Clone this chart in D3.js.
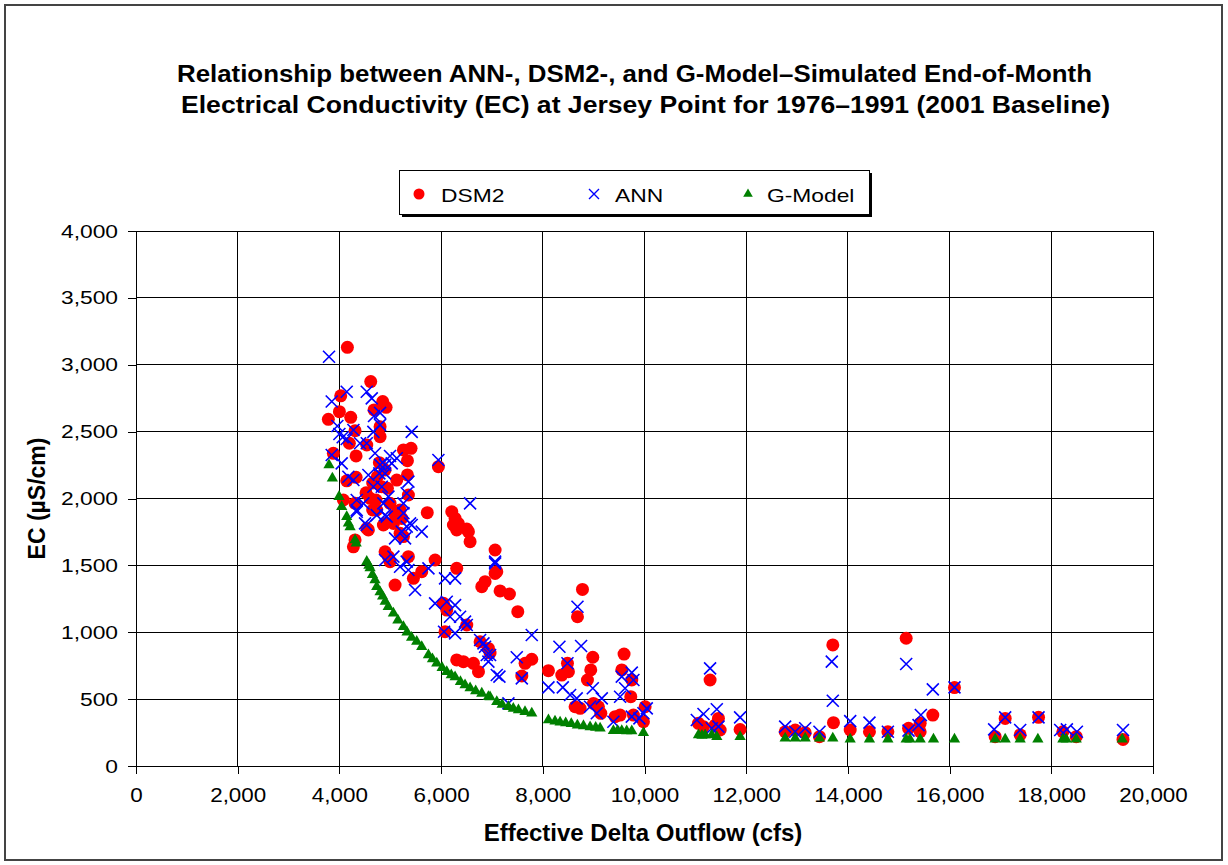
<!DOCTYPE html>
<html><head><meta charset="utf-8">
<script src="https://cdn.jsdelivr.net/npm/d3@7"></script>
<style>
body{margin:0;background:#fff;}
svg{display:block;font-family:"Liberation Sans",Arial,sans-serif;}
</style></head>
<body><svg id="c" width="1228" height="865"></svg>
<script>
const xTicks=[0,2000,4000,6000,8000,10000,12000,14000,16000,18000,20000];
const yTicks=[0,500,1000,1500,2000,2500,3000,3500,4000];
const seriesNames=["DSM2","ANN","G-Model"];
const dsm2=[[4157,3130],[4616,2874],[4026,2768],[4852,2725],[4918,2682],[4681,2662],[4000,2649],[4223,2607],[3783,2592],[4800,2537],[4308,2507],[4800,2462],[4196,2413],[4538,2400],[3881,2338],[4328,2318],[5259,2363],[5409,2375],[5338,2283],[4786,2268],[5947,2238],[4898,2213],[5128,2138],[5338,2176],[4144,2132],[4328,2158],[4655,2116],[4746,2163],[4833,2088],[4944,2076],[4524,2043],[5357,2026],[4078,1989],[4603,2001],[4721,1989],[4308,1964],[4996,1964],[4655,1914],[5728,1894],[6210,1901],[6275,1851],[4898,1813],[5226,1851],[5095,1876],[6340,1813],[6505,1772],[4538,1776],[5128,1891],[4734,1914],[5193,1914],[6242,1802],[6307,1765],[6537,1752],[6570,1677],[7062,1615],[4570,1765],[4865,1802],[5062,1814],[4275,1639],[4308,1690],[5193,1740],[5259,1715],[4898,1602],[4964,1565],[4996,1528],[5357,1565],[5882,1540],[6307,1478],[5455,1403],[5619,1453],[6865,1378],[7095,1453],[6800,1341],[5095,1353],[6045,1216],[6111,1166],[6078,1004],[6505,1054],[6767,929],[6931,879],[6307,793],[6439,780],[6636,768],[6735,705],[7062,1440],[7160,1309],[7344,1286],[7508,1154],[8780,1320],[8682,1116],[6963,845],[7652,768],[7783,798],[7587,673],[8111,713],[8373,680],[8504,705],[8485,768],[8983,813],[8943,718],[8878,643],[9598,837],[9553,718],[9750,643],[9730,518],[8635,443],[8734,431],[9094,443],[9141,394],[9422,369],[9520,381],[9782,381],[9979,331],[10012,443],[8997,468],[11290,643],[11061,319],[11160,294],[11389,306],[11488,269],[11454,356],[11880,273],[12766,256],[12963,269],[13160,249],[13441,219],[13703,905],[13716,324],[14045,269],[15146,955],[14424,256],[14786,256],[15193,282],[15421,256],[15421,319],[15670,381],[16096,586],[16896,219],[17093,356],[17388,232],[17749,364],[18227,256],[18490,219],[19410,199]];
const ann=[[3796,3060],[4144,2798],[4538,2798],[4636,2749],[3849,2725],[4800,2640],[4681,2617],[3960,2542],[4800,2550],[4000,2482],[5422,2498],[4668,2498],[4065,2458],[4275,2512],[4144,2445],[4406,2413],[4538,2413],[3849,2325],[4045,2263],[4701,2338],[4996,2318],[5128,2301],[5947,2288],[4800,2251],[4898,2251],[5029,2263],[4177,2163],[4570,2176],[4275,2138],[4786,2188],[4898,2188],[5357,2126],[4668,2088],[4833,2088],[4964,2014],[5324,2039],[4341,1989],[6570,1964],[5259,1964],[4472,1964],[4865,1964],[4341,1901],[4734,1876],[4931,1864],[4504,1814],[5390,1814],[4341,1914],[4898,1876],[5259,1891],[4538,1802],[5324,1790],[5422,1802],[5619,1752],[5095,1702],[5291,1702],[5226,1752],[4898,1540],[5062,1565],[5324,1528],[5193,1490],[5357,1465],[5751,1478],[5488,1316],[6078,1403],[6275,1403],[7062,1528],[5882,1216],[6111,1228],[6275,1203],[6176,1116],[6373,1116],[6471,1079],[6505,1054],[6058,1004],[6275,992],[6767,942],[6865,892],[6898,830],[7095,680],[7062,1515],[8682,1191],[7783,979],[8327,892],[8753,897],[8485,768],[6833,917],[6963,830],[6930,780],[7488,813],[7147,668],[7587,655],[7324,468],[8111,588],[8393,588],[8537,531],[8667,506],[8983,581],[9160,506],[8930,443],[9062,394],[9520,518],[9553,668],[9750,698],[9782,643],[9618,581],[9388,331],[9750,369],[9900,356],[9979,394],[10045,431],[11290,730],[11029,344],[11160,389],[11422,424],[11454,294],[11323,282],[11880,364],[12766,294],[12963,256],[13160,282],[13441,256],[13683,780],[13703,488],[14045,336],[15146,763],[14424,324],[14786,256],[15193,264],[15389,306],[15435,381],[15670,573],[16096,588],[16876,274],[17093,364],[17388,269],[17749,364],[18175,269],[18306,274],[18503,256],[19410,269]];
const gmodel=[[3796,2250],[3862,2151],[3993,2014],[4045,1939],[4144,1864],[4177,1815],[4210,1787],[4308,1690],[4330,1665],[4538,1528],[4580,1500],[4603,1480],[4650,1430],[4700,1390],[4734,1341],[4800,1301],[4850,1270],[4900,1230],[4960,1190],[5062,1142],[5150,1090],[5259,1042],[5330,1000],[5420,960],[5520,930],[5619,892],[5751,830],[5830,800],[5915,768],[6020,735],[6111,705],[6200,680],[6275,665],[6380,630],[6471,606],[6570,583],[6680,560],[6800,543],[6930,518],[6963,516],[7095,481],[7200,460],[7324,443],[7420,430],[7521,419],[7650,405],[7783,394],[8111,344],[8240,335],[8340,327],[8450,322],[8560,315],[8680,305],[8800,300],[8930,292],[9040,287],[9127,282],[9388,264],[9470,264],[9553,264],[9650,262],[9750,262],[9979,249],[11061,232],[11130,228],[11192,232],[11323,232],[11422,219],[11880,219],[12766,207],[12963,207],[13160,207],[13441,207],[13703,207],[14045,200],[14424,200],[14786,200],[15146,200],[15220,200],[15421,200],[15683,200],[16096,200],[16896,200],[17093,200],[17388,200],[17736,200],[18227,200],[18293,200],[18490,200],[19395,200]];

const svg=d3.select("#c");
const L=136,R=1153,T=231,B=766;
const x=d3.scaleLinear().domain([0,20000]).range([L,R]);
const y=d3.scaleLinear().domain([0,4000]).range([B,T]);
const fmt=d3.format(",");
function stretch(sel,f){sel.each(function(){const w=this.getComputedTextLength();d3.select(this).attr("textLength",w*f).attr("lengthAdjust","spacingAndGlyphs");});}

svg.append("rect").attr("x",5).attr("y",5).attr("width",1217).attr("height",855).attr("fill","#fff").attr("stroke","#444").attr("stroke-width",2);

// title
const title=svg.append("text").attr("font-weight","bold").attr("font-size",23).attr("fill","#000");
title.append("tspan").attr("x",177).attr("y",82).attr("textLength",915).attr("lengthAdjust","spacingAndGlyphs").text("Relationship between ANN-, DSM2-, and G-Model\u2013Simulated End-of-Month");
title.append("tspan").attr("x",181).attr("y",113).attr("textLength",929).attr("lengthAdjust","spacingAndGlyphs").text("Electrical Conductivity (EC) at Jersey Point for 1976\u20131991 (2001 Baseline)");

// gridlines
const g=svg.append("g");
g.selectAll(".vg").data(xTicks.slice(1)).join("line").attr("x1",d=>x(d)).attr("x2",d=>x(d)).attr("y1",T).attr("y2",B).attr("stroke","#000").attr("stroke-width",1).attr("shape-rendering","crispEdges");
g.selectAll(".hg").data(yTicks.slice(1)).join("line").attr("x1",L).attr("x2",R).attr("y1",d=>y(d)).attr("y2",d=>y(d)).attr("stroke","#000").attr("stroke-width",1).attr("shape-rendering","crispEdges");
svg.append("rect").attr("x",L).attr("y",T).attr("width",R-L).attr("height",B-T).attr("fill","none").attr("stroke","#000").attr("stroke-width",1).attr("shape-rendering","crispEdges");

// axes
const xa=svg.append("g").attr("transform",`translate(0,${B})`).call(d3.axisBottom(x).tickValues(xTicks).tickFormat(fmt).tickSize(8).tickPadding(14));
const ya=svg.append("g").attr("transform",`translate(${L},0)`).call(d3.axisLeft(y).tickValues(yTicks).tickFormat(fmt).tickSize(8).tickPadding(10));
xa.selectAll("text").attr("font-size",20);
ya.selectAll("text").attr("font-size",19);
[xa,ya].forEach(a=>{a.selectAll("text").attr("font-family","'Liberation Sans',Arial,sans-serif").attr("fill","#000");a.selectAll("line,path").attr("stroke","#000").attr("shape-rendering","crispEdges");});
stretch(xa.selectAll("text"),1.12);
stretch(ya.selectAll("text"),1.2);

svg.append("text").attr("x",643).attr("y",841).attr("text-anchor","middle").attr("font-weight","bold").attr("font-size",24).text("Effective Delta Outflow (cfs)");
svg.append("text").attr("transform",`translate(45,${(T+B)/2}) rotate(-90)`).attr("text-anchor","middle").attr("font-weight","bold").attr("font-size",23).text("EC (\u00b5S/cm)");

// markers
const m=svg.append("g");
m.selectAll(".d").data(dsm2).join("circle").attr("cx",d=>x(d[0])).attr("cy",d=>y(d[1])).attr("r",6.5).attr("fill","#ff0000");
const xs=6;
m.selectAll(".a").data(ann).join("path").attr("d",d=>{const cx=x(d[0]),cy=y(d[1]);return `M${cx-xs},${cy-xs}L${cx+xs},${cy+xs}M${cx-xs},${cy+xs}L${cx+xs},${cy-xs}`;}).attr("stroke","#0000ff").attr("stroke-width",1.6).attr("fill","none");
const tri=d3.symbol().type(d3.symbolTriangle).size(55);
m.selectAll(".g").data(gmodel).join("path").attr("transform",d=>`translate(${x(d[0])},${y(d[1])})`).attr("d",tri).attr("fill","#008000");

// legend
const lg=svg.append("g");
lg.append("rect").attr("x",402).attr("y",173).attr("width",470).attr("height",44).attr("fill","#000");
lg.append("rect").attr("x",399.5).attr("y",170.5).attr("width",470).attr("height",44).attr("fill","#fff").attr("stroke","#000").attr("stroke-width",1);
const ly=194;
lg.append("circle").attr("cx",419).attr("cy",ly).attr("r",5.5).attr("fill","#ff0000");
const lt=lg.selectAll(".lt").data([[441,seriesNames[0]],[615,seriesNames[1]],[767,seriesNames[2]]]).join("text").attr("x",d=>d[0]).attr("y",202).attr("font-size",19).text(d=>d[1]);
stretch(lt,1.2);
const lx=5;
lg.append("path").attr("d",`M${594-lx},${ly-lx}L${594+lx},${ly+lx}M${594-lx},${ly+lx}L${594+lx},${ly-lx}`).attr("stroke","#0000ff").attr("stroke-width",1.4);
lg.append("path").attr("transform",`translate(748,${ly})`).attr("d",d3.symbol().type(d3.symbolTriangle).size(40)).attr("fill","#008000");
</script></body></html>
